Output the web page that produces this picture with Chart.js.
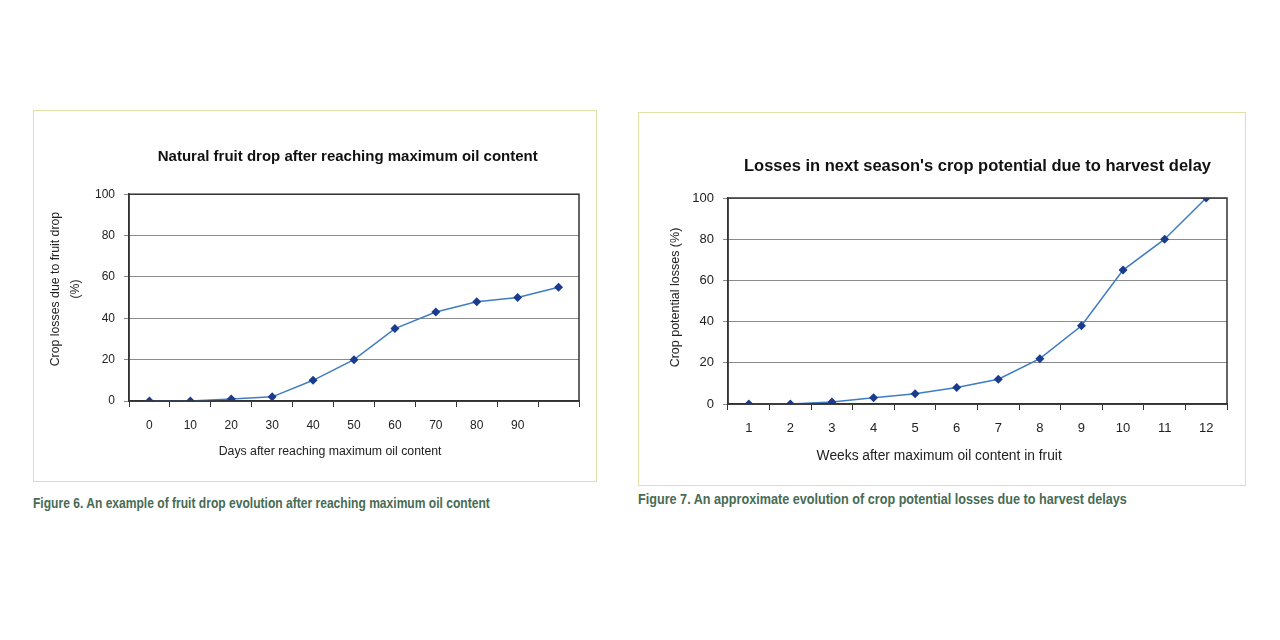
<!DOCTYPE html>
<html>
<head>
<meta charset="utf-8">
<script src="https://cdn.jsdelivr.net/npm/chart.js@4/dist/chart.umd.min.js"></script>
<style>
  html, body { margin: 0; padding: 0; background: #ffffff; }
  body { width: 1280px; height: 640px; position: relative; overflow: hidden; font-family: "Liberation Sans", Arial, sans-serif; }
  .box { position: absolute; border: 1.5px solid #dfe0a6; box-sizing: border-box; background: #fff; }
  .box canvas { display: block; }
  .cap { position: absolute; white-space: nowrap; color: #476b54; font-family: "Liberation Sans Narrow", "Liberation Sans", Arial, sans-serif; font-weight: bold; font-size: 15.5px; transform-origin: 0 50%; }
</style>
</head>
<body>
<div class="box" id="box1" style="left:33px; top:110px; width:564px; height:372px;"><canvas id="c1"></canvas></div>
<div class="box" id="box2" style="left:638px; top:112px; width:608px; height:374px;"><canvas id="c2"></canvas></div>
<div class="cap" id="cap1" data-w="457" style="left:33px; top:494px;">Figure 6. An example of fruit drop evolution after reaching maximum oil content</div>
<div class="cap" id="cap2" data-w="489" style="left:638px; top:490px;">Figure 7. An approximate evolution of crop potential losses due to harvest delays</div>
<script>
// ---- Data ----
const daysLabels = ['0', '10', '20', '30', '40', '50', '60', '70', '80', '90', ''];
const fruitDropValues = [0, 0, 1, 2, 10, 20, 35, 43, 48, 50, 55];

const weeksLabels = ['1', '2', '3', '4', '5', '6', '7', '8', '9', '10', '11', '12'];
const potentialLossValues = [0, 0, 1, 3, 5, 8, 12, 22, 38, 65, 80, 100];

const yTicks = [0, 20, 40, 60, 80, 100];

const title1 = 'Natural fruit drop after reaching maximum oil content';
const xTitle1 = 'Days after reaching maximum oil content';
const yTitle1 = ['Crop losses due to fruit drop', '(%)'];

const title2 = "Losses in next season's crop potential due to harvest delay";
const xTitle2 = 'Weeks after maximum oil content in fruit';
const yTitle2 = 'Crop potential losses (%)';

const sp = n => ' '.repeat(n);

// ---- Frame plugin (plot area border) ----
const framePlugin = {
  id: 'frame',
  afterDraw(chart) {
    const a = chart.chartArea, ctx = chart.ctx;
    ctx.save();
    ctx.strokeStyle = '#333333';
    ctx.lineWidth = 1.5;
    ctx.strokeRect(a.left, a.top, a.right - a.left, a.bottom - a.top);
    ctx.restore();
  }
};

function makeChart(id, cfg) {
  const canvas = document.getElementById(id);
  const box = canvas.parentElement;
  const w = box.clientWidth, h = box.clientHeight;
  canvas.style.width = w + 'px';
  canvas.style.height = h + 'px';
  canvas.width = w; canvas.height = h;
  return new Chart(canvas, {
    type: 'line',
    data: {
      labels: cfg.labels,
      datasets: [{
        data: cfg.values,
        borderColor: '#3f7cc4',
        borderWidth: 1.5,
        pointStyle: 'rectRot',
        pointRadius: 4.5,
        pointBackgroundColor: '#1b3c8c',
        pointBorderColor: '#1b3c8c',
        pointBorderWidth: 0,
        tension: 0,
        fill: false
      }]
    },
    options: {
      responsive: false,
      animation: false,
      devicePixelRatio: 1,
      layout: { padding: { left: 0, right: cfg.padRight, top: 0, bottom: 0 } },
      plugins: {
        legend: { display: false },
        tooltip: { enabled: false },
        title: {
          display: true,
          fullSize: false,
          text: cfg.title,
          color: '#111111',
          font: { family: 'Liberation Sans', size: cfg.titleSize, weight: 'bold', lineHeight: 1.2 },
          padding: { top: cfg.titleTop, bottom: cfg.titleBottom },
          align: 'center'
        }
      },
      scales: {
        x: {
          type: 'category',
          offset: true,
          afterFit(s) { s.height = cfg.xHeight; },
          grid: { display: true, offset: true, drawOnChartArea: false, drawTicks: true, tickLength: 6, color: '#333333', lineWidth: 1 },
          border: { display: true, color: '#333333', width: 1.5 },
          ticks: { color: '#222222', font: { family: 'Liberation Sans', size: cfg.tickSize }, padding: 11, maxRotation: 0, autoSkip: false },
          title: { display: true, text: cfg.xTitle, color: '#222222', font: { family: 'Liberation Sans', size: cfg.xTitleSize, lineHeight: 1.2 }, padding: { top: 0, bottom: cfg.xTitleBottom } }
        },
        y: {
          min: 0, max: 100,
          afterFit(s) { s.width = cfg.yWidth; },
          afterBuildTicks(s) { s.ticks = yTicks.map(v => ({ value: v })); },
          grid: { display: true, drawOnChartArea: true, drawTicks: true, tickLength: 5, color: '#8a8a8a', lineWidth: 1 },
          border: { display: true, color: '#333333', width: 1.5 },
          ticks: { color: '#222222', font: { family: 'Liberation Sans', size: cfg.tickSize }, padding: 9 },
          title: { display: true, text: cfg.yTitle, color: '#222222', font: { family: 'Liberation Sans', size: cfg.yTitleSize, lineHeight: cfg.yTitleLH }, padding: { top: cfg.yTitleTop, bottom: 0 } }
        }
      }
    },
    plugins: [framePlugin]
  });
}

makeChart('c1', {
  labels: daysLabels, values: fruitDropValues,
  title: title1 + sp(3), titleSize: 15, titleTop: 36.5, titleBottom: 28.7,
  xTitle: xTitle1 + sp(14), yTitle: yTitle1.map(t => sp(5) + t),
  tickSize: 12, xTitleSize: 12.3, yTitleSize: 12.3, yTitleLH: 1.6,
  padRight: 17, xHeight: 80, xTitleBottom: 22, yWidth: 95, yTitleTop: 12
});

makeChart('c2', {
  labels: weeksLabels, values: potentialLossValues,
  title: title2, titleSize: 16.5, titleTop: 43.1, titleBottom: 22.1,
  xTitle: xTitle2 + sp(20), yTitle: sp(2) + yTitle2,
  tickSize: 13, xTitleSize: 13.8, yTitleSize: 12.5, yTitleLH: 1.4,
  padRight: 18, xHeight: 81, xTitleBottom: 21, yWidth: 89, yTitleTop: 28
});

// fit captions to target width
document.querySelectorAll('.cap').forEach(el => {
  const target = parseFloat(el.dataset.w);
  const w = el.scrollWidth;
  el.style.transform = 'scaleX(' + (target / w) + ')';
});
</script>
</body>
</html>
